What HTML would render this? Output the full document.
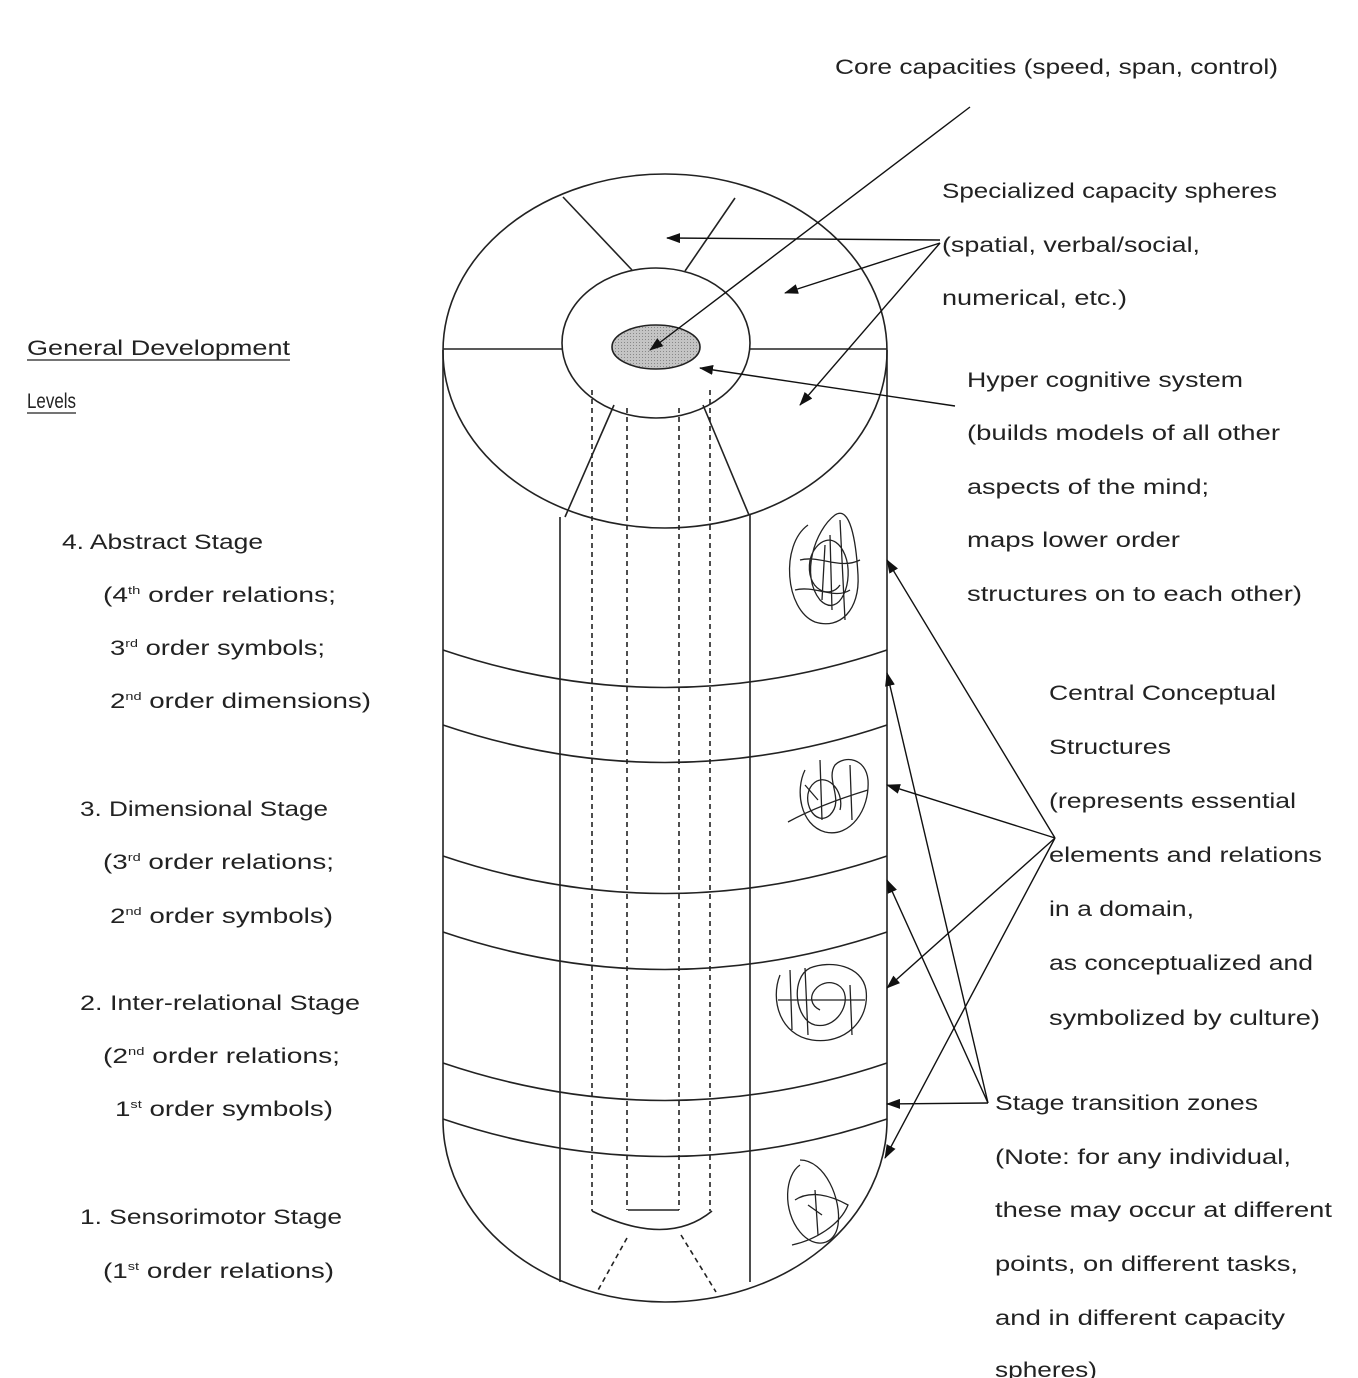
<!DOCTYPE html>
<html><head><meta charset="utf-8"><style>
html,body{margin:0;padding:0;background:#fff;}
svg{display:block;}
text{font-family:"Liberation Sans",sans-serif;font-size:21px;fill:#222;}
</style></head><body>
<svg width="1358" height="1378" viewBox="0 0 1358 1378" xmlns="http://www.w3.org/2000/svg">
<defs>
<marker id="a" markerWidth="14" markerHeight="10" refX="13" refY="5" orient="auto" markerUnits="userSpaceOnUse">
<path d="M0,0 L14,5 L0,10 z" fill="#111"/></marker>
<pattern id="dots" width="3" height="3" patternUnits="userSpaceOnUse"><rect width="3" height="3" fill="#c4c4c4"/><rect width="1" height="1" fill="#888"/></pattern>
</defs>
<g fill="none" stroke="#222" stroke-width="1.6">
<ellipse cx="665" cy="351" rx="222" ry="177"/>
<path d="M443,350 L443,1120 A222,182 0 0 0 887,1120 L887,350"/>
<ellipse cx="656" cy="343" rx="94" ry="75"/>
<ellipse cx="656" cy="347" rx="44" ry="22" fill="url(#dots)"/>
<line x1="443" y1="349" x2="562" y2="349"/>
<line x1="750" y1="349" x2="887" y2="349"/>
<line x1="563" y1="197" x2="632" y2="270"/>
<line x1="735" y1="198" x2="685" y2="271"/>
<line x1="614" y1="405" x2="565" y2="517"/>
<line x1="703" y1="405" x2="749" y2="515"/>
<line x1="560" y1="517" x2="560" y2="1282"/>
<line x1="750" y1="515" x2="750" y2="1282"/>
<path d="M443,650 Q665,725 887,650"/>
<path d="M443,725 Q665,800 887,725"/>
<path d="M443,856 Q665,931 887,856"/>
<path d="M443,932 Q665,1007 887,932"/>
<path d="M443,1063 Q665,1138 887,1063"/>
<path d="M443,1119 Q665,1194 887,1119"/>
<g stroke-dasharray="5,4">
<line x1="592" y1="390" x2="592" y2="1211"/>
<line x1="710" y1="390" x2="710" y2="1211"/>
<line x1="627" y1="408" x2="627" y2="1210"/>
<line x1="679" y1="408" x2="679" y2="1210"/>
<line x1="627" y1="1238" x2="597" y2="1292"/>
<line x1="681" y1="1235" x2="716" y2="1292"/>
</g>
<line x1="628" y1="1210" x2="679" y2="1210"/>
<path d="M592,1211 Q667,1248 712,1211"/>
<g stroke-width="1.3">
<path d="M808,525 C780,545 785,610 815,622 C840,630 860,610 858,575 C856,540 850,505 835,515 C815,530 800,575 820,600 C840,620 855,580 845,555 C835,530 815,540 810,560 C805,590 830,600 840,585 M800,560 C820,555 840,570 860,560 M830,535 L832,610 M825,545 L822,600 M795,590 C815,585 835,600 850,590 M840,520 L845,620"/>
<path d="M805,770 C795,790 800,825 825,832 C850,838 870,810 868,780 C866,758 845,755 835,765 C825,780 845,800 830,815 C815,828 800,800 812,785 C825,770 845,790 840,810 M788,822 C810,810 835,800 868,790 M820,760 L822,820 M805,785 L818,800 M850,765 L852,820"/>
<path d="M780,975 C770,1000 780,1035 812,1040 C845,1045 870,1020 866,990 C862,965 830,960 810,968 C790,978 795,1020 815,1025 C840,1030 855,995 838,985 C820,975 800,1000 820,1010 M790,970 L792,1030 M805,968 L808,1035 M850,985 L852,1035 M778,1000 L865,1000"/>
<path d="M800,1165 C785,1175 782,1210 800,1232 C815,1250 835,1245 838,1225 C842,1200 825,1160 800,1160 M795,1200 C810,1190 830,1195 848,1205 C840,1225 815,1240 792,1245 M815,1190 L818,1235 M808,1205 L822,1215"/>
</g>
</g>
<g stroke="#111" stroke-width="1.4" fill="none" marker-end="url(#a)">
<line x1="970" y1="107" x2="650" y2="350"/>
<line x1="940" y1="240" x2="667" y2="238"/>
<line x1="940" y1="243" x2="785" y2="293"/>
<line x1="940" y1="243" x2="800" y2="405"/>
<line x1="955" y1="406" x2="700" y2="368"/>
<line x1="1055" y1="838" x2="887" y2="560"/>
<line x1="1055" y1="838" x2="887" y2="785"/>
<line x1="1055" y1="838" x2="887" y2="988"/>
<line x1="1055" y1="838" x2="885" y2="1158"/>
<line x1="988" y1="1103" x2="887" y2="673"/>
<line x1="988" y1="1103" x2="887" y2="880"/>
<line x1="988" y1="1103" x2="887" y2="1104"/>
</g>
<text lengthAdjust="spacingAndGlyphs" x="835" y="74" textLength="443">Core capacities (speed, span, control)</text>
<text lengthAdjust="spacingAndGlyphs" x="942" y="198" textLength="335">Specialized capacity spheres</text>
<text lengthAdjust="spacingAndGlyphs" x="942" y="252" textLength="258">(spatial, verbal/social,</text>
<text lengthAdjust="spacingAndGlyphs" x="942" y="305" textLength="185">numerical, etc.)</text>
<text lengthAdjust="spacingAndGlyphs" x="967" y="387" textLength="276">Hyper cognitive system</text>
<text lengthAdjust="spacingAndGlyphs" x="967" y="440" textLength="313">(builds models of all other</text>
<text lengthAdjust="spacingAndGlyphs" x="967" y="494" textLength="242">aspects of the mind;</text>
<text lengthAdjust="spacingAndGlyphs" x="967" y="547" textLength="213">maps lower order</text>
<text lengthAdjust="spacingAndGlyphs" x="967" y="601" textLength="335">structures on to each other)</text>
<text lengthAdjust="spacingAndGlyphs" x="1049" y="700" textLength="227">Central Conceptual</text>
<text lengthAdjust="spacingAndGlyphs" x="1049" y="754" textLength="122">Structures</text>
<text lengthAdjust="spacingAndGlyphs" x="1049" y="808" textLength="247">(represents essential</text>
<text lengthAdjust="spacingAndGlyphs" x="1049" y="862" textLength="273">elements and relations</text>
<text lengthAdjust="spacingAndGlyphs" x="1049" y="916" textLength="145">in a domain,</text>
<text lengthAdjust="spacingAndGlyphs" x="1049" y="970" textLength="264">as conceptualized and</text>
<text lengthAdjust="spacingAndGlyphs" x="1049" y="1025" textLength="271">symbolized by culture)</text>
<text lengthAdjust="spacingAndGlyphs" x="995" y="1110" textLength="263">Stage transition zones</text>
<text lengthAdjust="spacingAndGlyphs" x="995" y="1164" textLength="296">(Note: for any individual,</text>
<text lengthAdjust="spacingAndGlyphs" x="995" y="1217" textLength="337">these may occur at different</text>
<text lengthAdjust="spacingAndGlyphs" x="995" y="1271" textLength="303">points, on different tasks,</text>
<text lengthAdjust="spacingAndGlyphs" x="995" y="1325" textLength="290">and in different capacity</text>
<text lengthAdjust="spacingAndGlyphs" x="995" y="1377" textLength="102">spheres)</text>
<text lengthAdjust="spacingAndGlyphs" x="27" y="355" textLength="263">General Development</text>
<text lengthAdjust="spacingAndGlyphs" x="27" y="408" textLength="49">Levels</text>
<text lengthAdjust="spacingAndGlyphs" x="62" y="549" textLength="201">4. Abstract Stage</text>
<text lengthAdjust="spacingAndGlyphs" x="103" y="602" textLength="233">(4<tspan font-size="11" dy="-8">th</tspan><tspan dy="8"> order relations;</tspan></text>
<text lengthAdjust="spacingAndGlyphs" x="110" y="655" textLength="215">3<tspan font-size="11" dy="-8">rd</tspan><tspan dy="8"> order symbols;</tspan></text>
<text lengthAdjust="spacingAndGlyphs" x="110" y="708" textLength="261">2<tspan font-size="11" dy="-8">nd</tspan><tspan dy="8"> order dimensions)</tspan></text>
<text lengthAdjust="spacingAndGlyphs" x="80" y="816" textLength="248">3. Dimensional Stage</text>
<text lengthAdjust="spacingAndGlyphs" x="103" y="869" textLength="231">(3<tspan font-size="11" dy="-8">rd</tspan><tspan dy="8"> order relations;</tspan></text>
<text lengthAdjust="spacingAndGlyphs" x="110" y="923" textLength="223">2<tspan font-size="11" dy="-8">nd</tspan><tspan dy="8"> order symbols)</tspan></text>
<text lengthAdjust="spacingAndGlyphs" x="80" y="1010" textLength="280">2. Inter-relational Stage</text>
<text lengthAdjust="spacingAndGlyphs" x="103" y="1063" textLength="237">(2<tspan font-size="11" dy="-8">nd</tspan><tspan dy="8"> order relations;</tspan></text>
<text lengthAdjust="spacingAndGlyphs" x="115" y="1116" textLength="218">1<tspan font-size="11" dy="-8">st</tspan><tspan dy="8"> order symbols)</tspan></text>
<text lengthAdjust="spacingAndGlyphs" x="80" y="1224" textLength="262">1. Sensorimotor Stage</text>
<text lengthAdjust="spacingAndGlyphs" x="103" y="1278" textLength="231">(1<tspan font-size="11" dy="-8">st</tspan><tspan dy="8"> order relations)</tspan></text>
<line x1="27" y1="360" x2="290" y2="360" stroke="#222" stroke-width="1.3"/>
<line x1="27" y1="413" x2="76" y2="413" stroke="#222" stroke-width="1.3"/>
</svg>
</body></html>
